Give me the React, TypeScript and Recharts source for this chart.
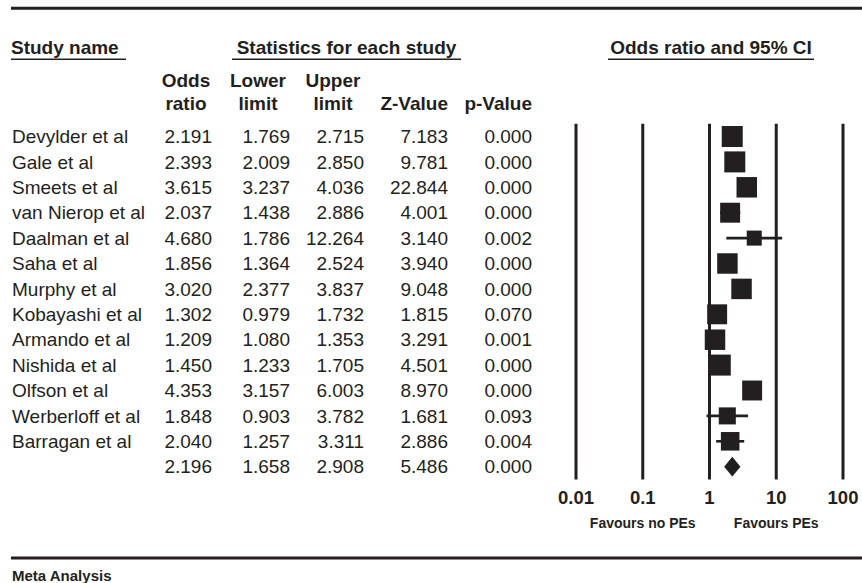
import React from 'react'
import { ComposedChart, Scatter, Area, ErrorBar, XAxis, YAxis, ReferenceLine } from 'recharts'

const studies = [
  'Devylder et al', 'Gale et al', 'Smeets et al', 'van Nierop et al', 'Daalman et al',
  'Saha et al', 'Murphy et al', 'Kobayashi et al', 'Armando et al', 'Nishida et al',
  'Olfson et al', 'Werberloff et al', 'Barragan et al',
]
const oddsRatio = [2.191, 2.393, 3.615, 2.037, 4.68, 1.856, 3.02, 1.302, 1.209, 1.45, 4.353, 1.848, 2.04]
const lowerLimit = [1.769, 2.009, 3.237, 1.438, 1.786, 1.364, 2.377, 0.979, 1.08, 1.233, 3.157, 0.903, 1.257]
const upperLimit = [2.715, 2.85, 4.036, 2.886, 12.264, 2.524, 3.837, 1.732, 1.353, 1.705, 6.003, 3.782, 3.311]
const zValue = [7.183, 9.781, 22.844, 4.001, 3.14, 3.94, 9.048, 1.815, 3.291, 4.501, 8.97, 1.681, 2.886]
const pValue = [0.0, 0.0, 0.0, 0.0, 0.002, 0.0, 0.0, 0.07, 0.001, 0.0, 0.0, 0.093, 0.004]
// relative weights
const relWeight = [8.2, 8.2, 7.8, 7.4, 4.2, 7.8, 7.8, 7.4, 7.8, 8.2, 7.4, 5.4, 6.4]

const summary = { or: 2.196, lower: 1.658, upper: 2.908, z: 5.486, p: 0.0 }

const xTicks = [0.01, 0.1, 1, 10, 100]
const favourLabels: Record<number, string> = { 0.1: 'Favours no PEs', 10: 'Favours PEs' }

const INK = '#231f20'
const FONT = '"Liberation Sans", Arial, Helvetica, sans-serif'
const DIAMOND_HALF = 0.39

const squares = studies.map((_, i) => ({
  x: oddsRatio[i],
  y: i,
  err: [oddsRatio[i] - lowerLimit[i], upperLimit[i] - oddsRatio[i]],
  w: relWeight[i],
}))

const summaryRow = studies.length
const diamond = [
  { x: summary.lower, band: [summaryRow, summaryRow] },
  { x: summary.or, band: [summaryRow - DIAMOND_HALF, summaryRow + DIAMOND_HALF] },
  { x: summary.upper, band: [summaryRow, summaryRow] },
]

const rowTicks = Array.from({ length: studies.length + 1 }, (_, i) => i)
const colRight = [212, 290, 364, 448, 532]

const SquareShape = (props: any) => {
  const { cx, cy, payload } = props
  const s = Math.sqrt(payload.w) * 7.33
  return <rect x={cx - s / 2} y={cy - s / 2} width={s} height={s} fill={INK} />
}

const RowTick = (props: any) => {
  const { y, payload } = props
  const i = payload.value
  const isSum = i === summaryRow
  const name = isSum ? '' : studies[i]
  const vals = isSum
    ? [summary.or, summary.lower, summary.upper, summary.z, summary.p]
    : [oddsRatio[i], lowerLimit[i], upperLimit[i], zValue[i], pValue[i]]
  return (
    <g fontFamily={FONT} fontSize={19} fill={INK}>
      <text x={12} y={y} dy="0.35em" fill={INK}>{name}</text>
      {vals.map((v, k) => (
        <text key={k} x={colRight[k]} y={y} dy="0.35em" textAnchor="end" fill={INK}>
          {v.toFixed(3)}
        </text>
      ))}
    </g>
  )
}

const AxisTick = (props: any) => {
  const { x, y, payload } = props
  const v = payload.value
  return (
    <g fontFamily={FONT} fontWeight="bold" fill={INK}>
      <text x={x} y={y + 18.6} dy="0.35em" textAnchor="middle" fontSize={18.5} fill={INK}>
        {String(v)}
      </text>
      {favourLabels[v] && (
        <text x={x} y={y + 43.6} dy="0.35em" textAnchor="middle" fontSize={14} fill={INK}>
          {favourLabels[v]}
        </text>
      )}
    </g>
  )
}

export default function App() {
  const bold = { fontFamily: FONT, fontWeight: 'bold' as const, fill: INK }
  return (
    <div style={{ position: 'absolute', left: 0, top: 0, width: 862, height: 583, background: '#fff' }}>
      <ComposedChart
        width={862}
        height={583}
        data={diamond}
        margin={{ top: 123.8, right: 19, bottom: 43.6, left: 0 }}
      >
        <XAxis
          dataKey="x"
          type="number"
          scale="log"
          domain={[0.01, 100]}
          allowDataOverflow
          ticks={xTicks}
          interval={0}
          axisLine={false}
          tickLine={false}
          tickSize={0}
          tickMargin={0}
          height={60}
          tick={<AxisTick />}
        />
        <YAxis
          dataKey="y"
          type="number"
          domain={[-0.5, 13.5]}
          reversed
          ticks={rowTicks}
          interval={0}
          axisLine={false}
          tickLine={false}
          width={576}
          tick={<RowTick />}
        />
        {xTicks.map((t) => (
          <ReferenceLine key={t} x={t} stroke={INK} strokeWidth={3} />
        ))}
        <Area
          dataKey="band"
          type="linear"
          fill={INK}
          fillOpacity={1}
          stroke="none"
          dot={false}
          activeDot={false}
          isAnimationActive={false}
        />
        <Scatter data={squares} shape={<SquareShape />} isAnimationActive={false}>
          <ErrorBar dataKey="err" direction="x" width={0} stroke={INK} strokeWidth={2.6} />
        </Scatter>
      </ComposedChart>
      <svg
        width={862}
        height={583}
        style={{ position: 'absolute', left: 0, top: 0, pointerEvents: 'none' }}
      >
        <line x1={11} x2={862} y1={8.3} y2={8.3} stroke={INK} strokeWidth={3} />
        <line x1={11} x2={862} y1={558} y2={558} stroke={INK} strokeWidth={3} />
        <g {...bold} fontSize={19}>
          <text x={11} y={47.5} dy="0.35em">Study name</text>
          <text x={346.5} y={47.5} dy="0.35em" textAnchor="middle">Statistics for each study</text>
          <text x={711} y={47.5} dy="0.35em" textAnchor="middle">Odds ratio and 95% CI</text>
          <text x={186} y={80.5} dy="0.35em" textAnchor="middle">Odds</text>
          <text x={186} y={103.5} dy="0.35em" textAnchor="middle">ratio</text>
          <text x={258} y={80.5} dy="0.35em" textAnchor="middle">Lower</text>
          <text x={258} y={103.5} dy="0.35em" textAnchor="middle">limit</text>
          <text x={333} y={80.5} dy="0.35em" textAnchor="middle">Upper</text>
          <text x={333} y={103.5} dy="0.35em" textAnchor="middle">limit</text>
          <text x={448} y={103.5} dy="0.35em" textAnchor="end">Z-Value</text>
          <text x={532} y={103.5} dy="0.35em" textAnchor="end">p-Value</text>
        </g>
        <line x1={11} x2={126} y1={59.3} y2={59.3} stroke={INK} strokeWidth={1.6} />
        <line x1={232} x2={461} y1={59.3} y2={59.3} stroke={INK} strokeWidth={1.6} />
        <line x1={608} x2={814} y1={59.3} y2={59.3} stroke={INK} strokeWidth={1.6} />
        <text x={12} y={576} dy="0.35em" {...bold} fontSize={15}>Meta Analysis</text>
      </svg>
    </div>
  )
}
